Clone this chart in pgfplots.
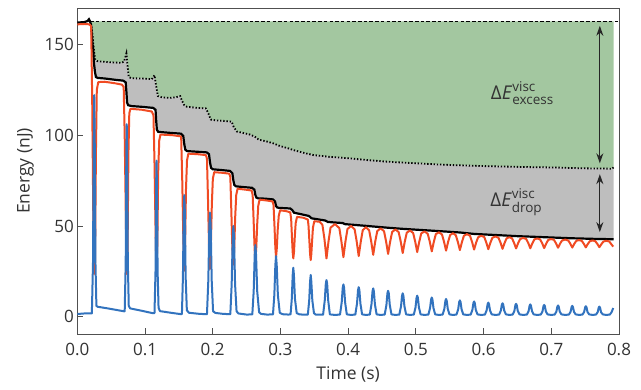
\documentclass[border=0pt]{standalone}
\usepackage{pgfplots}
\pgfplotsset{compat=1.18}
\usepgfplotslibrary{fillbetween}
\usetikzlibrary{arrows.meta}
\usepackage{fontspec}
\setmainfont{Open Sans}
\definecolor{fillgreen}{RGB}{163,199,160}
\definecolor{fillgrey}{RGB}{190,190,190}
\definecolor{myred}{RGB}{240,75,35}
\definecolor{myblue}{RGB}{50,115,190}
\definecolor{axgrey}{RGB}{80,80,80}
\newcommand{\supsub}[2]{\raisebox{0.9pt}{\fontsize{13.5}{13}\selectfont\begin{tabular}{@{}l@{}}#1\\#2\end{tabular}}}
\begin{document}
\begin{tikzpicture}
\begin{axis}[
  scale only axis, width=541.7pt, height=326pt,
  xmin=0, xmax=0.8, ymin=-9.5, ymax=170,
  xtick={0,0.1,0.2,0.3,0.4,0.5,0.6,0.7,0.8},
  xticklabels={0.0,0.1,0.2,0.3,0.4,0.5,0.6,0.7,0.8},
  ytick={0,50,100,150},
  tick pos=left, tick align=inside,
  major tick length=6pt,
  tick style={axgrey, line width=0.8pt},
  axis line style={axgrey, line width=0.8pt},
  /pgf/number format/assume math mode=true,
  tick label style={font=\fontsize{17}{20}\selectfont, text=black!80},
  xticklabel style={yshift=-6pt},
  label style={font=\fontsize{17.5}{20}\selectfont, text=black!80},
  xlabel={Time (s)}, ylabel={Energy (nJ)},
  xlabel style={yshift=-4pt},
  ylabel style={yshift=4pt},
]
% dashed reference line
\addplot[name path=topline, black, line width=1.5pt, dash pattern=on 3.5pt off 2.2pt] coordinates {(0.019,162.6)(0.800,162.6)};
% dotted line (boundary)
\addplot[name path=dotline, draw=none] coordinates {
(0.0180,163.0)(0.0205,161)(0.0225,155)(0.0245,147)(0.0265,141.5)(0.0290,140.8)(0.035,140.5)(0.045,140.2)(0.055,140)(0.065,139.8)(0.0690,140.5)(0.0710,143)(0.0725,145)(0.0740,139)(0.0760,132)(0.080,131.3)(0.095,131.2)(0.1100,130.8)(0.1140,133)(0.1165,127)(0.1190,121.5)(0.125,120.8)(0.135,120.5)(0.145,120.8)(0.1520,121.5)(0.1545,119)(0.1580,116.5)(0.1620,115.6)(0.175,115.1)(0.1900,114.7)(0.1935,112)(0.1970,108.6)(0.205,108.1)(0.215,107.9)(0.2280,107.4)(0.2310,104.5)(0.2355,102)(0.245,101.2)(0.255,100.3)(0.2620,99.2)(0.2680,97.5)(0.2800,96.5)(0.2900,95.4)(0.3000,93.9)(0.3100,92.9)(0.3200,91.7)(0.3350,90.2)(0.3490,89.0)(0.3600,88.6)(0.3730,88.0)(0.3900,87.6)(0.4080,87.0)(0.4300,86.2)(0.4570,85.4)(0.4800,84.9)(0.5060,84.4)(0.5300,83.9)(0.5550,83.5)(0.5800,83.2)(0.6050,82.9)(0.6300,82.7)(0.6540,82.5)(0.6800,82.3)(0.7030,82.2)(0.7300,81.9)(0.7520,81.7)(0.7750,81.6)(0.7900,81.5)(0.7920,82.3)};
% total (black) line (boundary)
\addplot[name path=blackline, draw=none] coordinates {
(0.000,162.0)(0.010,162.2)(0.015,162.8)(0.0172,163.8)(0.0190,162.5)(0.0205,160)(0.0215,155)(0.0225,150)(0.0235,147)(0.0245,140)(0.0260,135)(0.0275,132)(0.030,131.5)(0.040,131.2)(0.055,130.5)(0.068,130)
(0.0715,129)(0.0725,124)(0.0735,118)(0.0750,116.5)(0.080,116)(0.095,115.6)(0.112,115)
(0.1155,114)(0.1165,108)(0.1175,103)(0.1195,101.8)(0.135,101.3)(0.153,100.8)
(0.1565,99.5)(0.1580,95)(0.1595,92)(0.1620,91.2)(0.175,90.9)(0.191,90.5)
(0.1945,89.5)(0.1960,85)(0.1975,82)(0.2000,81.2)(0.212,80.8)(0.2255,80.3)
(0.2290,79)(0.2305,75)(0.2320,72.5)(0.2345,71.8)(0.245,71.4)(0.258,71)
(0.2615,70)(0.2630,67)(0.2645,65.6)(0.2670,65.2)(0.278,65)(0.289,64.6)
(0.2920,63.5)(0.2935,61)(0.2950,60.2)(0.2980,59.9)(0.305,59.8)(0.3145,59.6)
(0.3175,58.7)(0.3200,57.3)(0.3300,56.5)(0.3420,55.5)(0.3460,54.2)(0.3560,53.6)(0.3660,53.0)(0.3700,52.2)(0.3800,51.9)(0.3920,51.6)(0.3950,51.0)(0.4150,50.4)(0.4370,49.7)(0.4590,49.0)(0.4806,48.4)(0.5020,47.9)(0.5235,47.4)(0.5446,46.9)(0.5650,46.4)(0.5860,45.6)(0.6070,45.2)(0.6280,44.8)(0.6480,44.4)(0.6690,44.1)(0.6895,43.8)(0.7100,43.5)(0.7310,43.2)(0.7510,43.0)(0.7710,42.8)(0.7920,42.7)};
\addplot[fillgreen, draw=none] fill between[of=topline and dotline, soft clip={domain=0.0195:0.792}];
\addplot[fillgrey, draw=none] fill between[of=dotline and blackline, soft clip={domain=0.0195:0.792}];
% black total line
\addplot[black, line width=2.2pt] coordinates {
(0.000,162.0)(0.010,162.2)(0.015,162.8)(0.0172,163.8)(0.0190,162.5)(0.0205,160)(0.0215,155)(0.0225,150)(0.0235,147)(0.0245,140)(0.0260,135)(0.0275,132)(0.030,131.5)(0.040,131.2)(0.055,130.5)(0.068,130)
(0.0715,129)(0.0725,124)(0.0735,118)(0.0750,116.5)(0.080,116)(0.095,115.6)(0.112,115)
(0.1155,114)(0.1165,108)(0.1175,103)(0.1195,101.8)(0.135,101.3)(0.153,100.8)
(0.1565,99.5)(0.1580,95)(0.1595,92)(0.1620,91.2)(0.175,90.9)(0.191,90.5)
(0.1945,89.5)(0.1960,85)(0.1975,82)(0.2000,81.2)(0.212,80.8)(0.2255,80.3)
(0.2290,79)(0.2305,75)(0.2320,72.5)(0.2345,71.8)(0.245,71.4)(0.258,71)
(0.2615,70)(0.2630,67)(0.2645,65.6)(0.2670,65.2)(0.278,65)(0.289,64.6)
(0.2920,63.5)(0.2935,61)(0.2950,60.2)(0.2980,59.9)(0.305,59.8)(0.3145,59.6)
(0.3175,58.7)(0.3200,57.3)(0.3300,56.5)(0.3420,55.5)(0.3460,54.2)(0.3560,53.6)(0.3660,53.0)(0.3700,52.2)(0.3800,51.9)(0.3920,51.6)(0.3950,51.0)(0.4150,50.4)(0.4370,49.7)(0.4590,49.0)(0.4806,48.4)(0.5020,47.9)(0.5235,47.4)(0.5446,46.9)(0.5650,46.4)(0.5860,45.6)(0.6070,45.2)(0.6280,44.8)(0.6480,44.4)(0.6690,44.1)(0.6895,43.8)(0.7100,43.5)(0.7310,43.2)(0.7510,43.0)(0.7710,42.8)(0.7920,42.7)};
% dotted line
\addplot[black, line width=1.8pt, dash pattern=on 1.4pt off 1.8pt] coordinates {
(0.0180,163.0)(0.0205,161)(0.0225,155)(0.0245,147)(0.0265,141.5)(0.0290,140.8)(0.035,140.5)(0.045,140.2)(0.055,140)(0.065,139.8)(0.0690,140.5)(0.0710,143)(0.0725,145)(0.0740,139)(0.0760,132)(0.080,131.3)(0.095,131.2)(0.1100,130.8)(0.1140,133)(0.1165,127)(0.1190,121.5)(0.125,120.8)(0.135,120.5)(0.145,120.8)(0.1520,121.5)(0.1545,119)(0.1580,116.5)(0.1620,115.6)(0.175,115.1)(0.1900,114.7)(0.1935,112)(0.1970,108.6)(0.205,108.1)(0.215,107.9)(0.2280,107.4)(0.2310,104.5)(0.2355,102)(0.245,101.2)(0.255,100.3)(0.2620,99.2)(0.2680,97.5)(0.2800,96.5)(0.2900,95.4)(0.3000,93.9)(0.3100,92.9)(0.3200,91.7)(0.3350,90.2)(0.3490,89.0)(0.3600,88.6)(0.3730,88.0)(0.3900,87.6)(0.4080,87.0)(0.4300,86.2)(0.4570,85.4)(0.4800,84.9)(0.5060,84.4)(0.5300,83.9)(0.5550,83.5)(0.5800,83.2)(0.6050,82.9)(0.6300,82.7)(0.6540,82.5)(0.6800,82.3)(0.7030,82.2)(0.7300,81.9)(0.7520,81.7)(0.7750,81.6)(0.7900,81.5)(0.7920,82.3)};
% red curve
\addplot[myred, line width=2pt, line join=round] coordinates {
(0.000,161.0)(0.010,161.2)(0.018,161.0)(0.0205,160)(0.022,120)(0.0235,60)(0.0248,23.5)(0.0262,30)(0.0275,90)(0.0288,125)(0.031,129.2)(0.040,129.4)(0.055,128.6)(0.066,127.8)
(0.0685,126.5)(0.070,100)(0.0715,60)(0.0728,23.6)(0.0742,35)(0.0755,90)(0.0768,112)(0.0785,114.5)(0.095,114)(0.110,113)
(0.1125,111)(0.1140,85)(0.1155,50)(0.1168,25.4)(0.1182,40)(0.1195,80)(0.1210,97)(0.1228,100.3)(0.14,100)(0.153,99.3)
(0.1535,97.5)(0.1550,75)(0.1565,45)(0.1578,25.4)(0.1592,40)(0.1605,70)(0.1620,86)(0.1640,89.8)(0.178,89.5)(0.190,89)
(0.1915,87)(0.1930,65)(0.1945,40)(0.1958,26.3)(0.1972,38)(0.1987,62)(0.2002,76)(0.2022,79.6)(0.213,79.3)(0.2245,78.8)
(0.2260,77)(0.2275,58)(0.2290,38)(0.2303,28.7)(0.2317,37)(0.2332,55)(0.2347,67)(0.2367,70.5)(0.248,70)(0.2575,69.5)
(0.2590,67)(0.2605,52)(0.2618,38)(0.2630,30.5)(0.2643,38)(0.2657,51)(0.2672,61)(0.2692,64.5)(0.280,64)(0.2885,63.5)
(0.2898,61.5)(0.2912,50)(0.2925,38)(0.2935,32.8)(0.2947,38)(0.2960,48)(0.2975,55.5)(0.2995,58.6)(0.308,58.2)(0.3145,57.5)
(0.3158,54)(0.3170,44)(0.3181,35.5)(0.3190,32.1)(0.3200,35.5)(0.3212,44)(0.3225,51.5)(0.3245,55)(0.334,54.5)(0.3405,53.5)
(0.3415,50)(0.3427,42)(0.3438,34.5)(0.3447,31.2)(0.3456,34.5)(0.3468,42)(0.3480,49)(0.350,52.6)(0.358,52.3)
(0.3620,50.6)(0.3650,42.8)(0.3680,32.1)(0.3710,41.5)(0.3740,49.1)(0.3805,51)
(0.3870,48.8)(0.3900,41.6)(0.3930,32.8)(0.3960,41.4)(0.3990,48.3)(0.4043,50)
(0.4096,48.1)(0.4126,41.5)(0.4156,33.4)(0.4186,41.3)(0.4216,47.7)(0.4263,49.3)
(0.4310,47.6)(0.4340,41.6)(0.4370,34.1)(0.4400,41.4)(0.4430,47.2)(0.4480,48.7)
(0.4530,47.1)(0.4560,41.5)(0.4590,34.6)(0.4620,41.3)(0.4650,46.7)(0.4698,48.1)
(0.4746,46.6)(0.4776,41.5)(0.4806,35.1)(0.4836,41.3)(0.4866,46.3)(0.4913,47.5)
(0.4960,46.1)(0.4990,41.4)(0.5020,35.6)(0.5050,41.3)(0.5080,45.9)(0.5128,47.0)
(0.5175,45.7)(0.5205,41.4)(0.5235,36.0)(0.5265,41.2)(0.5295,45.5)(0.5340,46.5)
(0.5386,45.3)(0.5416,41.3)(0.5446,36.4)(0.5476,41.2)(0.5506,45.0)(0.5548,46.0)
(0.5590,44.9)(0.5620,41.2)(0.5650,36.7)(0.5680,41.1)(0.5710,44.6)(0.5755,45.5)
(0.5800,44.6)(0.5830,41.2)(0.5860,37.0)(0.5890,40.8)(0.5920,43.8)(0.5965,44.6)
(0.6010,43.9)(0.6040,40.9)(0.6070,37.2)(0.6100,40.7)(0.6130,43.5)(0.6175,44.2)
(0.6220,43.5)(0.6250,40.8)(0.6280,37.4)(0.6310,40.6)(0.6340,43.2)(0.6380,43.8)
(0.6420,43.2)(0.6450,40.7)(0.6480,37.6)(0.6510,40.5)(0.6540,42.8)(0.6585,43.4)
(0.6630,42.8)(0.6660,40.6)(0.6690,37.7)(0.6720,40.4)(0.6750,42.6)(0.6792,43.1)
(0.6835,42.6)(0.6865,40.5)(0.6895,37.8)(0.6925,40.3)(0.6955,42.3)(0.6998,42.8)
(0.7040,42.3)(0.7070,40.4)(0.7100,38.0)(0.7130,40.3)(0.7160,42.0)(0.7205,42.5)
(0.7250,42.0)(0.7280,40.3)(0.7310,38.1)(0.7340,40.2)(0.7370,41.8)(0.7410,42.2)
(0.7450,41.8)(0.7480,40.2)(0.7510,38.2)(0.7540,40.1)(0.7570,41.6)(0.7610,42.0)
(0.7650,41.6)(0.7680,40.1)(0.7710,38.3)(0.7740,40.0)(0.7770,41.4)(0.7810,41.8)
(0.7855,41.5)(0.7885,40.0)(0.7915,38.6)};
% blue curve
\addplot[myblue, line width=2pt, line join=round] coordinates {
(0.000,1.5)(0.010,1.8)(0.0215,1.8)
(0.0232,30)(0.0243,100)(0.0250,122)(0.0257,100)(0.0268,30)(0.0282,6)(0.030,5.5)(0.045,4.6)(0.060,3.6)(0.069,3.0)
(0.0700,3)(0.0715,30)(0.0724,90)(0.0730,106)(0.0736,90)(0.0746,30)(0.0760,6)(0.078,4.6)(0.095,3.3)(0.111,2)
(0.1140,2)(0.1155,25)(0.1164,72)(0.1170,86)(0.1176,72)(0.1186,25)(0.1200,5)(0.122,3.1)(0.138,2.2)(0.1535,1.4)
(0.1545,1.6)(0.1560,22)(0.1572,58)(0.1580,67)(0.1588,58)(0.1600,22)(0.1618,3.5)(0.165,2.2)(0.180,1.6)(0.191,1.4)
(0.1915,1.5)(0.1935,20)(0.1950,50)(0.1960,57.3)(0.1970,50)(0.1985,20)(0.2005,3)(0.204,2.1)(0.215,1.6)(0.2255,1.4)
(0.2260,1.5)(0.2280,18)(0.2295,43)(0.2305,49.9)(0.2315,43)(0.2330,18)(0.2352,3)(0.238,1.8)(0.250,1.2)(0.2580,1.3)
(0.2585,1.5)(0.2605,14)(0.2620,34)(0.2630,39.5)(0.2640,34)(0.2657,14)(0.2685,2.5)(0.271,1.6)(0.280,1.2)(0.2885,1.3)
(0.2890,1.4)(0.2910,12)(0.2925,28.5)(0.2935,33.4)(0.2945,28.5)(0.2962,12)(0.2990,2.2)(0.303,1.4)(0.312,1.2)(0.3145,1.3)
(0.3150,1.5)(0.3168,10)(0.3181,23)(0.3190,27)(0.3199,23)(0.3214,10)(0.3240,2)(0.328,1.3)(0.338,1.1)(0.3400,1.2)
(0.3405,1.3)(0.3425,9)(0.3438,19.5)(0.3447,23)(0.3456,19.5)(0.3471,9)(0.3495,2)(0.352,1.2)(0.360,1.1)
(0.3630,1.2)(0.3655,9.1)(0.3670,18.2)(0.3680,20.2)(0.3690,18.2)(0.3705,9.1)(0.3730,1.3)(0.3805,1.0)
(0.3880,1.2)(0.3905,8.0)(0.3920,16.0)(0.3930,17.8)(0.3940,16.0)(0.3955,8.0)(0.3980,1.3)(0.4043,1.0)
(0.4106,1.2)(0.4131,7.3)(0.4146,14.7)(0.4156,16.3)(0.4166,14.7)(0.4181,7.3)(0.4206,1.3)(0.4263,1.0)
(0.4320,1.2)(0.4345,7.0)(0.4360,14.0)(0.4370,15.6)(0.4380,14.0)(0.4395,7.0)(0.4420,1.3)(0.4480,1.0)
(0.4540,1.2)(0.4565,6.4)(0.4580,12.9)(0.4590,14.3)(0.4600,12.9)(0.4615,6.4)(0.4640,1.3)(0.4698,1.0)
(0.4756,1.2)(0.4781,5.8)(0.4796,11.6)(0.4806,12.9)(0.4816,11.6)(0.4831,5.8)(0.4856,1.3)(0.4913,1.0)
(0.4970,1.2)(0.4995,5.2)(0.5010,10.4)(0.5020,11.6)(0.5030,10.4)(0.5045,5.2)(0.5070,1.3)(0.5128,1.0)
(0.5185,1.2)(0.5210,4.8)(0.5225,9.5)(0.5235,10.6)(0.5245,9.5)(0.5260,4.8)(0.5285,1.3)(0.5340,1.0)
(0.5396,1.2)(0.5421,4.4)(0.5436,8.8)(0.5446,9.8)(0.5456,8.8)(0.5471,4.4)(0.5496,1.3)(0.5548,1.0)
(0.5600,1.2)(0.5625,4.1)(0.5640,8.1)(0.5650,9.0)(0.5660,8.1)(0.5675,4.1)(0.5700,1.3)(0.5755,1.0)
(0.5810,1.2)(0.5835,3.8)(0.5850,7.6)(0.5860,8.4)(0.5870,7.6)(0.5885,3.8)(0.5910,1.3)(0.5965,1.0)
(0.6020,1.2)(0.6045,3.5)(0.6060,7.0)(0.6070,7.8)(0.6080,7.0)(0.6095,3.5)(0.6120,1.3)(0.6175,1.0)
(0.6230,1.2)(0.6255,3.4)(0.6270,6.7)(0.6280,7.4)(0.6290,6.7)(0.6305,3.4)(0.6330,1.3)(0.6380,1.0)
(0.6430,1.2)(0.6455,3.2)(0.6470,6.4)(0.6480,7.1)(0.6490,6.4)(0.6505,3.2)(0.6530,1.3)(0.6585,1.0)
(0.6640,1.2)(0.6665,3.1)(0.6680,6.1)(0.6690,6.8)(0.6700,6.1)(0.6715,3.1)(0.6740,1.3)(0.6792,1.0)
(0.6845,1.2)(0.6870,2.9)(0.6885,5.9)(0.6895,6.5)(0.6905,5.9)(0.6920,2.9)(0.6945,1.3)(0.6998,1.0)
(0.7050,1.2)(0.7075,2.8)(0.7090,5.6)(0.7100,6.2)(0.7110,5.6)(0.7125,2.8)(0.7150,1.3)(0.7205,1.0)
(0.7260,1.2)(0.7285,2.7)(0.7300,5.4)(0.7310,6.0)(0.7320,5.4)(0.7335,2.7)(0.7360,1.3)(0.7410,1.0)
(0.7460,1.2)(0.7485,2.6)(0.7500,5.2)(0.7510,5.8)(0.7520,5.2)(0.7535,2.6)(0.7560,1.3)(0.7610,1.0)
(0.7660,1.2)(0.7685,2.5)(0.7700,5.0)(0.7710,5.6)(0.7720,5.0)(0.7735,2.5)(0.7760,1.3)(0.7810,1.0)
(0.7865,1.2)(0.7890,2.5)(0.7915,4.8)};
% annotations
\draw[{Stealth[length=10pt,width=7pt]}-{Stealth[length=10pt,width=7pt]}, line width=1.1pt, black!85] (axis cs:0.7717,160.2) -- (axis cs:0.7717,84.5);
\draw[{Stealth[length=10pt,width=7pt]}-{Stealth[length=10pt,width=7pt]}, line width=1.1pt, black!85] (axis cs:0.7717,78.5) -- (axis cs:0.7717,46.6);
\node[font=\fontsize{19}{22}\selectfont, text=black!80, inner sep=0pt] at (axis cs:0.657,122) {Δ\textit{E}\supsub{visc}{excess}};
\node[font=\fontsize{19}{22}\selectfont, text=black!80, inner sep=0pt] at (axis cs:0.648,63) {Δ\textit{E}\supsub{visc}{drop}};
\end{axis}
\path (current axis.south west) ++(-77.3pt,-55pt) rectangle ++(641pt,389pt);
\end{tikzpicture}
\end{document}
